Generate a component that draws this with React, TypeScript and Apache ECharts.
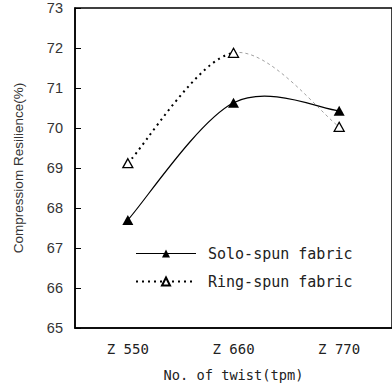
import React, { useEffect, useRef } from "react";
import * as echarts from "echarts";

const categories = ["Z 550", "Z 660", "Z 770"];
const soloValues = [67.7, 70.63, 70.43];
const ringValues = [69.12, 71.88, 70.03];
const yMin = 65;
const yMax = 73;
const yInterval = 1;

// Excel-like smoothing: cubic bezier segments in pixel space (tension 1/6)
function bezierSegments(pts: number[][]) {
  const segs: any[] = [];
  const n = pts.length;
  for (let i = 0; i < n - 1; i++) {
    const p0 = pts[i - 1] || pts[i];
    const p1 = pts[i];
    const p2 = pts[i + 1];
    const p3 = pts[i + 2] || pts[i + 1];
    segs.push({
      x1: p1[0],
      y1: p1[1],
      x2: p2[0],
      y2: p2[1],
      cpx1: p1[0] + (p2[0] - p0[0]) / 6,
      cpy1: p1[1] + (p2[1] - p0[1]) / 6,
      cpx2: p2[0] - (p3[0] - p1[0]) / 6,
      cpy2: p2[1] - (p3[1] - p1[1]) / 6,
    });
  }
  return segs;
}

function curveSeries(values: number[], styles: any[]) {
  return {
    type: "custom",
    coordinateSystem: "cartesian2d",
    data: values.map((v, i) => [i, v]),
    silent: true,
    z: 3,
    renderItem: (params: any, api: any) => {
      if (params.dataIndex !== 0) return null;
      const pts = values.map((v, i) => api.coord([i, v]));
      const segs = bezierSegments(pts);
      return {
        type: "group",
        children: segs.map((shape, i) => ({
          type: "bezierCurve",
          shape,
          style: { fill: null, ...styles[Math.min(i, styles.length - 1)] },
        })),
      };
    },
  };
}

export default function App() {
  const ref = useRef<HTMLDivElement>(null);
  useEffect(() => {
    if (!ref.current) return;
    const chart = echarts.init(ref.current, null, { renderer: "svg" });
    const solidStyle = { stroke: "#000", lineWidth: 1.2 };
    const dotStyle = { stroke: "#000", lineWidth: 2, lineDash: [2, 4] };
    const greyDash = { stroke: "#888", lineWidth: 0.8, lineDash: [3, 3] };
    const labelFont = "DejaVu Sans Mono";
    const option = {
      animation: false,
      grid: {
        left: 75,
        right: -6,
        top: 8,
        height: 320,
        show: true,
        borderColor: "#000",
        borderWidth: 1.5,
      },
      xAxis: {
        type: "category",
        data: categories,
        boundaryGap: true,
        axisLine: { lineStyle: { color: "#000", width: 1.5 } },
        axisTick: { inside: true, length: 5, lineStyle: { color: "#000" } },
        axisLabel: { margin: 14, fontSize: 14, color: "#222", fontFamily: labelFont },
        name: "No. of twist(tpm)",
        nameLocation: "middle",
        nameGap: 40,
        nameTextStyle: { fontSize: 13.7, color: "#222", fontFamily: labelFont },
      },
      yAxis: {
        type: "value",
        min: yMin,
        max: yMax,
        interval: yInterval,
        splitLine: { show: false },
        axisLine: { show: true, lineStyle: { color: "#000", width: 1.5 } },
        axisTick: { show: true, inside: true, length: 6, lineStyle: { color: "#000" } },
        axisLabel: { margin: 12, fontSize: 14.5, color: "#333", fontFamily: "Liberation Sans" },
        name: "Compressiom Resilience(%)",
        nameLocation: "middle",
        nameGap: 50,
        nameTextStyle: { fontSize: 13.5, color: "#333", fontFamily: "Liberation Sans" },
      },
      legend: {
        orient: "vertical",
        left: 135,
        top: 246,
        padding: 0,
        itemWidth: 60,
        itemHeight: 10,
        itemGap: 13,
        data: [
          {
            name: "Solo-spun fabric",
            lineStyle: { width: 1.2, color: "#000", type: "solid", opacity: 1 },
          },
          {
            name: "Ring-spun fabric",
            lineStyle: { width: 2, color: "#000", type: [2, 4], opacity: 1 },
          },
        ],
        textStyle: { fontSize: 15, color: "#222", fontFamily: labelFont, padding: [0, 0, 0, 7] },
      },
      series: [
        curveSeries(soloValues, [solidStyle]),
        curveSeries(ringValues, [dotStyle, greyDash]),
        {
          name: "Solo-spun fabric",
          type: "line",
          data: soloValues,
          symbol: "triangle",
          symbolSize: [11, 10],
          itemStyle: { color: "#000" },
          lineStyle: { width: 0 },
          z: 5,
        },
        {
          name: "Ring-spun fabric",
          type: "line",
          data: ringValues,
          symbol: "triangle",
          symbolSize: [10, 9],
          itemStyle: { color: "#fff", borderColor: "#000", borderWidth: 1.3 },
          lineStyle: { width: 0 },
          z: 6,
        },
      ],
    };
    chart.setOption(option as any);
    return () => chart.dispose();
  }, []);
  return (
    <div
      ref={ref}
      style={{ position: "absolute", left: 0, top: 0, width: 392, height: 387 }}
    />
  );
}
